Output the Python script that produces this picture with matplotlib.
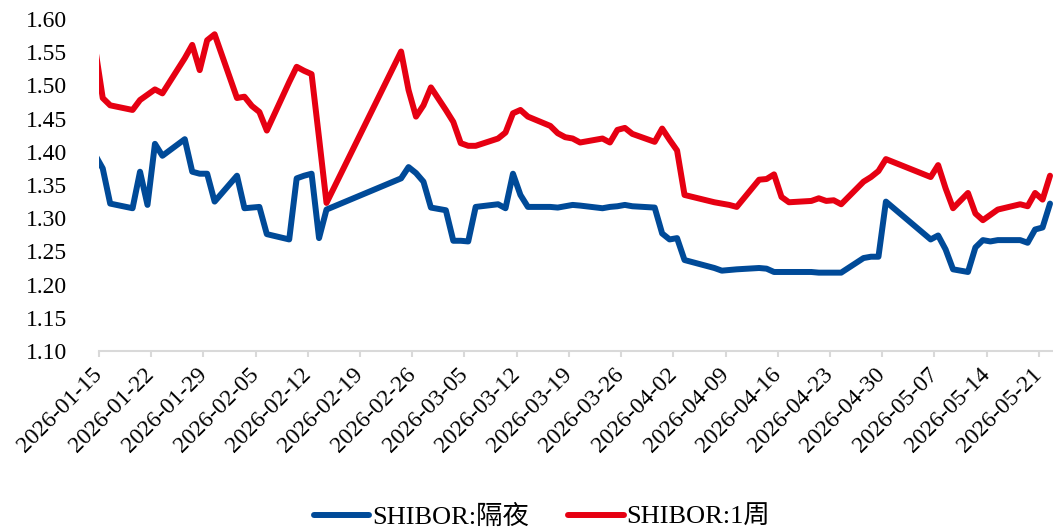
import matplotlib

matplotlib.use("Agg")

import matplotlib.pyplot as plt
import pandas as pd

# SHIBOR daily fixings (%), trading days incl. make-up Saturdays
DATES = [
    "2026-01-14", "2026-01-15", "2026-01-16", "2026-01-19", "2026-01-20", "2026-01-21", "2026-01-22", "2026-01-23",
    "2026-01-26", "2026-01-27", "2026-01-28", "2026-01-29", "2026-01-30",
    "2026-02-02", "2026-02-03", "2026-02-04", "2026-02-05", "2026-02-06",
    "2026-02-09", "2026-02-10", "2026-02-11", "2026-02-12", "2026-02-13", "2026-02-14",
    "2026-02-24", "2026-02-25", "2026-02-26", "2026-02-27", "2026-02-28",
    "2026-03-02", "2026-03-03", "2026-03-04", "2026-03-05", "2026-03-06",
    "2026-03-09", "2026-03-10", "2026-03-11", "2026-03-12", "2026-03-13",
    "2026-03-16", "2026-03-17", "2026-03-18", "2026-03-19", "2026-03-20",
    "2026-03-23", "2026-03-24", "2026-03-25", "2026-03-26", "2026-03-27",
    "2026-03-30", "2026-03-31", "2026-04-01", "2026-04-02", "2026-04-03",
    "2026-04-07", "2026-04-08", "2026-04-09", "2026-04-10",
    "2026-04-13", "2026-04-14", "2026-04-15", "2026-04-16", "2026-04-17",
    "2026-04-20", "2026-04-21", "2026-04-22", "2026-04-23", "2026-04-24",
    "2026-04-27", "2026-04-28", "2026-04-29", "2026-04-30",
    "2026-05-06", "2026-05-07", "2026-05-08", "2026-05-09",
    "2026-05-11", "2026-05-12", "2026-05-13", "2026-05-14", "2026-05-15",
    "2026-05-18", "2026-05-19", "2026-05-20", "2026-05-21", "2026-05-22",
]

SHIBOR_ON = [
    1.395, 1.375, 1.322, 1.315, 1.370, 1.320, 1.412, 1.394,
    1.419, 1.370, 1.367, 1.367, 1.325,
    1.364, 1.315, 1.316, 1.317, 1.276,
    1.268, 1.360, 1.364, 1.367, 1.270, 1.313,
    1.360, 1.377, 1.368, 1.355, 1.316,
    1.312, 1.266, 1.266, 1.265, 1.317,
    1.321, 1.315, 1.367, 1.335, 1.317,
    1.317, 1.316, 1.318, 1.320, 1.319,
    1.315, 1.317, 1.318, 1.320, 1.318,
    1.316, 1.277, 1.268, 1.270, 1.237,
    1.225, 1.221, 1.222, 1.223,
    1.225, 1.224, 1.219, 1.219, 1.219,
    1.219, 1.218, 1.218, 1.218, 1.218,
    1.240, 1.242, 1.242, 1.325,
    1.268, 1.274, 1.253, 1.223,
    1.219, 1.256, 1.267, 1.265, 1.267,
    1.267, 1.263, 1.283, 1.286, 1.322,
]

SHIBOR_1W = [
    1.555, 1.481, 1.470, 1.463, 1.478, 1.486, 1.494, 1.488,
    1.541, 1.561, 1.523, 1.568, 1.577,
    1.481, 1.483, 1.469, 1.460, 1.432,
    1.505, 1.528, 1.522, 1.517, 1.421, 1.323,
    1.551, 1.493, 1.453, 1.470, 1.497,
    1.463, 1.445, 1.413, 1.409, 1.409,
    1.420, 1.429, 1.458, 1.463, 1.453,
    1.439, 1.428, 1.422, 1.420, 1.414,
    1.420, 1.414, 1.433, 1.436, 1.427,
    1.415, 1.435, 1.418, 1.402, 1.335,
    1.324, 1.322, 1.320, 1.317,
    1.358, 1.359, 1.366, 1.332, 1.324,
    1.326, 1.330, 1.326, 1.327, 1.321,
    1.355, 1.362, 1.371, 1.389,
    1.362, 1.380, 1.345, 1.315,
    1.338, 1.307, 1.297, 1.305, 1.313,
    1.321, 1.318, 1.338, 1.328, 1.364,
]

X_TICK_LABELS = [
    "2026-01-15", "2026-01-22", "2026-01-29", "2026-02-05", "2026-02-12",
    "2026-02-19", "2026-02-26", "2026-03-05", "2026-03-12", "2026-03-19",
    "2026-03-26", "2026-04-02", "2026-04-09", "2026-04-16", "2026-04-23",
    "2026-04-30", "2026-05-07", "2026-05-14", "2026-05-21",
]
Y_TICKS = [1.10, 1.15, 1.20, 1.25, 1.30, 1.35, 1.40, 1.45, 1.50, 1.55, 1.60]

BLUE = "#004A98"
RED = "#E60012"
AXIS_GREY = "#D9D9D9"

plt.rcParams["font.family"] = ["Liberation Serif", "Noto Sans CJK SC"]
plt.rcParams["font.size"] = 17

# date axis: each day is one slot, points sit mid-slot
x = pd.to_datetime(DATES) + pd.Timedelta(hours=12)
start = pd.Timestamp("2026-01-15")

fig = plt.figure(figsize=(10.53, 5.31), dpi=100)
ax = fig.add_axes([99 / 1053, 180 / 531, (1053 - 99) / 1053, 332 / 531])

line_kw = dict(linewidth=4.3, solid_joinstyle="round", solid_capstyle="round")
ax.plot(x, SHIBOR_ON, color=BLUE, label="SHIBOR:隔夜", **line_kw)
ax.plot(x, SHIBOR_1W, color=RED, label="SHIBOR:1周", **line_kw)

ax.set_xlim(start, start + pd.Timedelta(days=127.9))
ax.set_ylim(1.10, 1.60)

ax.set_yticks(Y_TICKS)
ax.set_yticklabels([f"{v:.2f}" for v in Y_TICKS])
ax.tick_params(axis="y", length=0, pad=23)

ax.set_xticks(pd.to_datetime(X_TICK_LABELS))
ax.set_xticklabels(X_TICK_LABELS, rotation=45, ha="right", va="center", rotation_mode="anchor")
ax.tick_params(axis="x", direction="out", length=4.5, width=1.5, color=AXIS_GREY, pad=10)

for side in ["top", "right", "left"]:
    ax.spines[side].set_visible(False)
ax.spines["bottom"].set_color(AXIS_GREY)
ax.spines["bottom"].set_linewidth(1.5)

fig.legend(
    loc="center",
    bbox_to_anchor=(542 / 1053, 1 - 517 / 531),
    ncol=2,
    frameon=False,
    fontsize=19,
    handlelength=2.1,
    handletextpad=0.1,
    columnspacing=1.5,
)

fig.savefig("out.png", dpi=100)
